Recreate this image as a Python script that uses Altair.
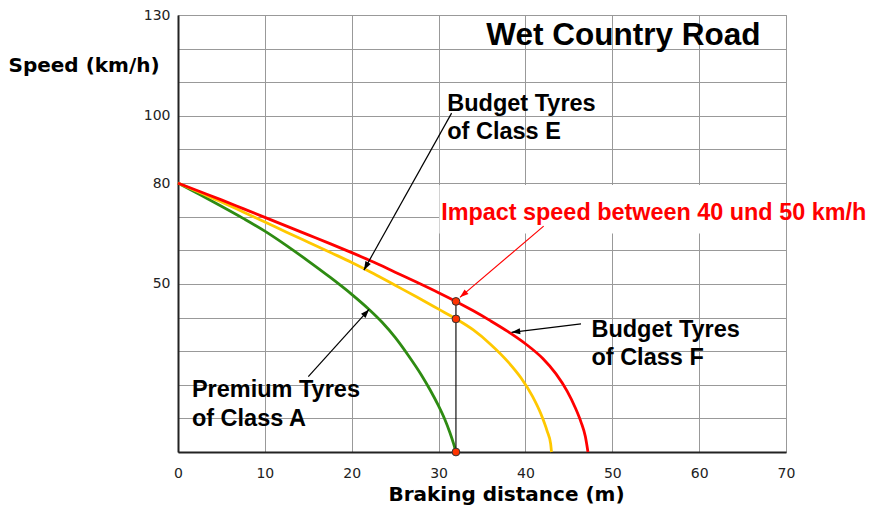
import math
import altair as alt
import pandas as pd

# ---------------- data ----------------
# Class A (premium, green)
a_x = [0, 2.5, 5, 7.5, 10, 12.5, 15, 17.5, 20, 22, 23.5, 25, 26.5, 28, 29, 30, 30.7, 31.3, 31.7, 32]
a_y = [80, 76.6, 73.1, 69.5, 65.7, 61.4, 56.8, 52.0, 46.9, 42.4, 38.6, 34.1, 28.8, 23.0, 18.6, 13.7, 9.8, 5.8, 2.7, 0]
# Class E (budget, yellow)
e_x = [0, 2.5, 5, 7.5, 10, 12.5, 15, 17.5, 20, 22.5, 25, 27.5, 30, 32, 34, 36, 38, 39.5, 40.8, 41.8, 42.5, 42.9, 43.0]
e_y = [80, 77.2, 74.4, 71.4, 68.4, 65.4, 62.4, 59.4, 56.4, 53.1, 49.6, 46.1, 42.5, 39.6, 36.3, 32.0, 26.8, 22.0, 16.6, 11.2, 6.2, 2.5, 0]
# Class F (budget, red)
f_x = [0, 2.5, 5, 7.5, 10, 12.5, 15, 17.5, 20, 22.5, 25, 27.5, 30, 32, 34, 36, 38, 40, 42, 43.5, 44.8, 45.7, 46.4, 46.9, 47.2]
f_y = [80, 77.5, 75.0, 72.4, 69.8, 67.2, 64.6, 62.0, 59.3, 56.5, 53.5, 50.5, 47.4, 44.8, 42.0, 39.0, 35.8, 32.2, 27.8, 23.3, 18.1, 13.4, 8.9, 4.6, 0]

series_names = ["Class A", "Class E", "Class F"]
series_colors = ["#2E8B12", "#FFC800", "#FF0000"]

# impact markers
dot_x = [32, 32, 32]
dot_y = [44.8, 39.6, 0]

# annotation texts (black)
ann_text = ["Budget Tyres", "of Class E", "Budget Tyres", "of Class F", "Premium Tyres", "of Class A"]
ann_x = [31.0, 31.0, 47.6, 47.6, 1.6, 1.6]
ann_y = [101.4, 93.1, 34.3, 25.9, 16.5, 7.8]

impact_text = ["Impact speed between 40 und 50 km/h"]
impact_x = [30.3]
impact_y = [69.0]

title_text = ["Wet Country Road"]
title_x = [35.5]
title_y = [121.1]

# arrows: start -> tip
arr_x = [31.5, 15.0, 46.4, 42.1]
arr_y = [100.8, 22.4, 38.1, 67.2]
arr_x2 = [21.4, 22.0, 38.4, 32.46]
arr_y2 = [54.1, 42.4, 35.6, 46.0]
arr_col = ["#000000", "#000000", "#000000", "#FF0000"]

x_ticks = list(range(0, 71, 10))
y_grid = list(range(0, 131, 10))
y_labels = [50, 80, 100, 130]

# ---------------- geometry ----------------
W, H = 608, 437
X_MAX, Y_MAX = 70, 130
PX_X, PX_Y = W / X_MAX, H / Y_MAX

rows = []
for name, xs, ys in zip(series_names, [a_x, e_x, f_x], [a_y, e_y, f_y]):
    for i, (xv, yv) in enumerate(zip(xs, ys)):
        rows.append({"series": name, "x": xv, "y": yv, "o": i})
curves = pd.DataFrame(rows)

arrows = pd.DataFrame({"x": arr_x, "y": arr_y, "x2": arr_x2, "y2": arr_y2, "col": arr_col})
arrows["ang"] = [
    (math.degrees(math.atan2((x2 - x1) * PX_X, (y2 - y1) * PX_Y)) + 360) % 360
    for x1, y1, x2, y2 in zip(arr_x, arr_y, arr_x2, arr_y2)
]

dots = pd.DataFrame({"x": dot_x, "y": dot_y})
vline = pd.DataFrame({"x": [dot_x[0]], "y": [dot_y[2]], "y2": [dot_y[0]]})
box = pd.DataFrame({"x": [30.1], "x2": [70], "y": [65.0], "y2": [79.4]})
ann = pd.DataFrame({"t": ann_text, "x": ann_x, "y": ann_y})
imp = pd.DataFrame({"t": impact_text, "x": impact_x, "y": impact_y})
ttl = pd.DataFrame({"t": title_text, "x": title_x, "y": title_y})

x_scale = alt.Scale(domain=[0, X_MAX], nice=False, zero=False)
y_scale = alt.Scale(domain=[0, Y_MAX], nice=False, zero=False)

x_axis = alt.Axis(
    values=x_ticks, grid=True, gridColor="#999999", gridWidth=1,
    ticks=False, tickSize=0, domainColor="#222222", domainWidth=2,
    labelFont="DejaVu Sans", labelFontSize=14, labelColor="#222222",
    labelPadding=14, labelFlush=False, labelOverlap=False,
    title="Braking distance (m)", titleFont="DejaVu Sans", titleFontSize=20,
    titleFontWeight="bold", titleColor="#000000", titleX=328, titleY=48,
    titleAlign="center", titleBaseline="alphabetic",
)
y_axis = alt.Axis(
    values=y_grid, grid=True, gridColor="#999999", gridWidth=1,
    ticks=False, tickSize=0, domainColor="#222222", domainWidth=2,
    labelFont="DejaVu Sans", labelFontSize=14, labelColor="#222222",
    labelPadding=8, labelOverlap=False,
    labelExpr="indexof(" + str(y_labels) + ", datum.value) >= 0 ? datum.label : ''",
    title="Speed (km/h)", titleFont="DejaVu Sans", titleFontSize=20,
    titleFontWeight="bold", titleColor="#000000", titleAngle=0,
    titleX=-170, titleY=56, titleAlign="left", titleBaseline="alphabetic",
)

X = lambda f="x": alt.X(f"{f}:Q", scale=x_scale, axis=x_axis)
Y = lambda f="y": alt.Y(f"{f}:Q", scale=y_scale, axis=y_axis)

box_layer = alt.Chart(box).mark_rect(color="white").encode(
    x=X(), x2="x2:Q", y=Y(), y2="y2:Q")

line_layer = alt.Chart(curves).mark_line(strokeWidth=2.8, interpolate="monotone").encode(
    x=X(), y=Y(),
    color=alt.Color("series:N", scale=alt.Scale(domain=series_names, range=series_colors), legend=None),
    order="o:Q",
)

vline_layer = alt.Chart(vline).mark_rule(color="#111111", strokeWidth=1.2).encode(
    x=X(), y=Y(), y2="y2:Q")

arrow_lines = alt.Chart(arrows).mark_rule(strokeWidth=1.2).encode(
    x=X(), y=Y(), x2="x2:Q", y2="y2:Q", color=alt.Color("col:N", scale=None))

arrow_heads = alt.Chart(arrows).mark_point(
    shape="M0,0L-0.35,1L0.35,1Z", filled=True, size=300, opacity=1).encode(
    x=X("x2"), y=Y("y2"), color=alt.Color("col:N", scale=None),
    angle=alt.Angle("ang:Q", scale=None))

dot_layer = alt.Chart(dots).mark_circle(
    size=60, color="#FF3300", stroke="#333333", strokeWidth=1, opacity=1).encode(
    x=X(), y=Y())

ann_layer = alt.Chart(ann).mark_text(
    font="Liberation Sans", fontWeight="bold", fontSize=23.5, align="left",
    baseline="alphabetic", color="#000000").encode(x=X(), y=Y(), text="t:N")

imp_layer = alt.Chart(imp).mark_text(
    font="Liberation Sans", fontWeight="bold", fontSize=23.4, align="left",
    baseline="alphabetic", color="#FF0000").encode(x=X(), y=Y(), text="t:N")

ttl_layer = alt.Chart(ttl).mark_text(
    font="Liberation Sans", fontWeight="bold", fontSize=31.5, align="left",
    baseline="alphabetic", color="#000000").encode(x=X(), y=Y(), text="t:N")

chart = alt.layer(
    box_layer, line_layer, vline_layer, arrow_lines, arrow_heads,
    dot_layer, ann_layer, imp_layer, ttl_layer,
).properties(
    width=W, height=H,
    autosize=alt.AutoSizeParams(type="none"),
    padding={"left": 170, "top": 7, "right": 84, "bottom": 55},
    background="white",
).configure_view(stroke="#999999", strokeWidth=1)

chart.save("out.html", embed_options={"renderer": "svg", "actions": False})
